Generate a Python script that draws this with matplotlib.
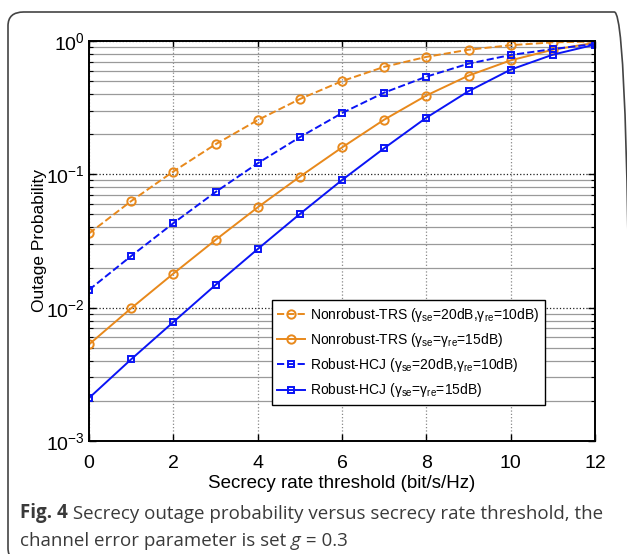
import numpy as np
import matplotlib
matplotlib.use("Agg")
import matplotlib.pyplot as plt
from matplotlib.patches import FancyBboxPatch
from matplotlib.ticker import LogLocator, NullFormatter

plt.rcParams['font.family'] = ['Liberation Sans', 'DejaVu Sans']
plt.rcParams['mathtext.fontset'] = 'custom'
plt.rcParams['mathtext.rm'] = 'Liberation Sans'
plt.rcParams['mathtext.it'] = 'Liberation Sans:italic'
plt.rcParams['mathtext.bf'] = 'Liberation Sans:bold'

# DATOS
rate = [0, 1, 2, 3, 4, 5, 6, 7, 8, 9, 10, 11, 12]
trs_20_10 = [0.036, 0.063, 0.105, 0.168, 0.255, 0.367, 0.50, 0.64, 0.76, 0.86, 0.93, 0.977, 0.99]
trs_15 = [0.0053, 0.0099, 0.018, 0.0322, 0.0565, 0.096, 0.159, 0.257, 0.39, 0.55, 0.716, 0.86, 0.97]
hcj_20_10 = [0.0136, 0.0244, 0.043, 0.0736, 0.121, 0.19, 0.288, 0.41, 0.54, 0.676, 0.785, 0.87, 0.95]
hcj_15 = [0.0021, 0.0041, 0.0078, 0.0148, 0.0275, 0.0504, 0.0906, 0.157, 0.266, 0.42, 0.61, 0.79, 0.94]

labels = [
    r"Nonrobust-TRS (γ$_{\mathrm{se}}$=20dB,γ$_{\mathrm{re}}$=10dB)",
    r"Nonrobust-TRS (γ$_{\mathrm{se}}$=γ$_{\mathrm{re}}$=15dB)",
    r"Robust-HCJ (γ$_{\mathrm{se}}$=20dB,γ$_{\mathrm{re}}$=10dB)",
    r"Robust-HCJ (γ$_{\mathrm{se}}$=γ$_{\mathrm{re}}$=15dB)",
]

naranja = "#E8891C"
azul = "#0A14F5"

fig = plt.figure(figsize=(6.27, 5.54), dpi=100)

# marco redondeado (recortado a la derecha y abajo)
W, H = 627, 554
marco = FancyBboxPatch((8 / W, 1 - 562 / H), 622 / W, 550 / H,
                       boxstyle="round,pad=0,rounding_size=0.025",
                       transform=fig.transFigure, fill=False,
                       edgecolor="#444444", linewidth=1.2, clip_on=False)
fig.patches.append(marco)

ax = fig.add_axes([89 / W, 1 - 441 / H, 506 / W, 400 / H])

ax.semilogy(rate, trs_20_10, "--o", color=naranja, lw=1.4, ms=6,
            mfc="none", mew=1.4, label=labels[0])
ax.semilogy(rate, trs_15, "-o", color=naranja, lw=1.4, ms=6,
            mfc="none", mew=1.4, label=labels[1])
ax.semilogy(rate, hcj_20_10, "--s", color=azul, lw=1.4, ms=5,
            mfc="none", mew=1.4, label=labels[2])
ax.semilogy(rate, hcj_15, "-s", color=azul, lw=1.4, ms=5,
            mfc="none", mew=1.4, label=labels[3])

ax.set_xlim(0, 12)
ax.set_ylim(1e-3, 1)
ax.set_xticks(range(0, 13, 2))
ax.yaxis.set_major_locator(LogLocator(base=10, numticks=10))
ax.yaxis.set_minor_locator(LogLocator(base=10, subs=np.arange(2, 10), numticks=10))
ax.yaxis.set_minor_formatter(NullFormatter())

ax.grid(True, which="major", axis="x", linestyle=":", color="#888888", lw=0.9)
ax.grid(True, which="major", axis="y", linestyle=":", color="#222222", lw=0.9)
ax.grid(True, which="minor", axis="y", linestyle="-", color="#9a9a9a", lw=0.9)

ax.tick_params(which="both", direction="in", top=True, right=True, labelsize=14)
ax.tick_params(which="major", length=5, width=1)
ax.tick_params(which="minor", length=3, width=0.8)
ax.tick_params(axis="x", pad=10)
ax.tick_params(axis="y", pad=3)
for s in ax.spines.values():
    s.set_linewidth(1.4)

ax.set_xlabel("Secrecy rate threshold (bit/s/Hz)", fontsize=13.5, labelpad=2)
ax.set_ylabel("Outage Probability", fontsize=12.5, labelpad=-1)

leg = ax.legend(loc="lower right", bbox_to_anchor=(0.902, 0.09), fontsize=10,
                fancybox=False, framealpha=1, edgecolor="black",
                borderpad=0.4, labelspacing=0.52, handlelength=2.0,
                handletextpad=0.4, borderaxespad=0)
leg.get_frame().set_linewidth(1.0)

# pie de figura
cap_font = ['Open Sans', 'DejaVu Sans']
gris = "#3a3a3a"
t1 = fig.text(20 / W, 1 - 518 / H, "Fig. 4", fontsize=13.5, fontweight="bold",
              family=cap_font, color=gris, va="baseline")
ax.annotate(" Secrecy outage probability versus secrecy rate threshold, the",
            xy=(1, 0), xycoords=t1, va="bottom", fontsize=13.5,
            family=cap_font, color=gris)
t3 = fig.text(20 / W, 1 - 546 / H, "channel error parameter is set ", fontsize=13.5,
              family=cap_font, color=gris, va="baseline")
t4 = ax.annotate("g", xy=(1, 0), xycoords=t3, va="bottom", fontsize=13.5,
                 family=cap_font, style="italic", color=gris)
ax.annotate(" = 0.3", xy=(1, 0), xycoords=t4, va="bottom", fontsize=13.5,
            family=cap_font, color=gris)

fig.savefig("out.png", dpi=100)
